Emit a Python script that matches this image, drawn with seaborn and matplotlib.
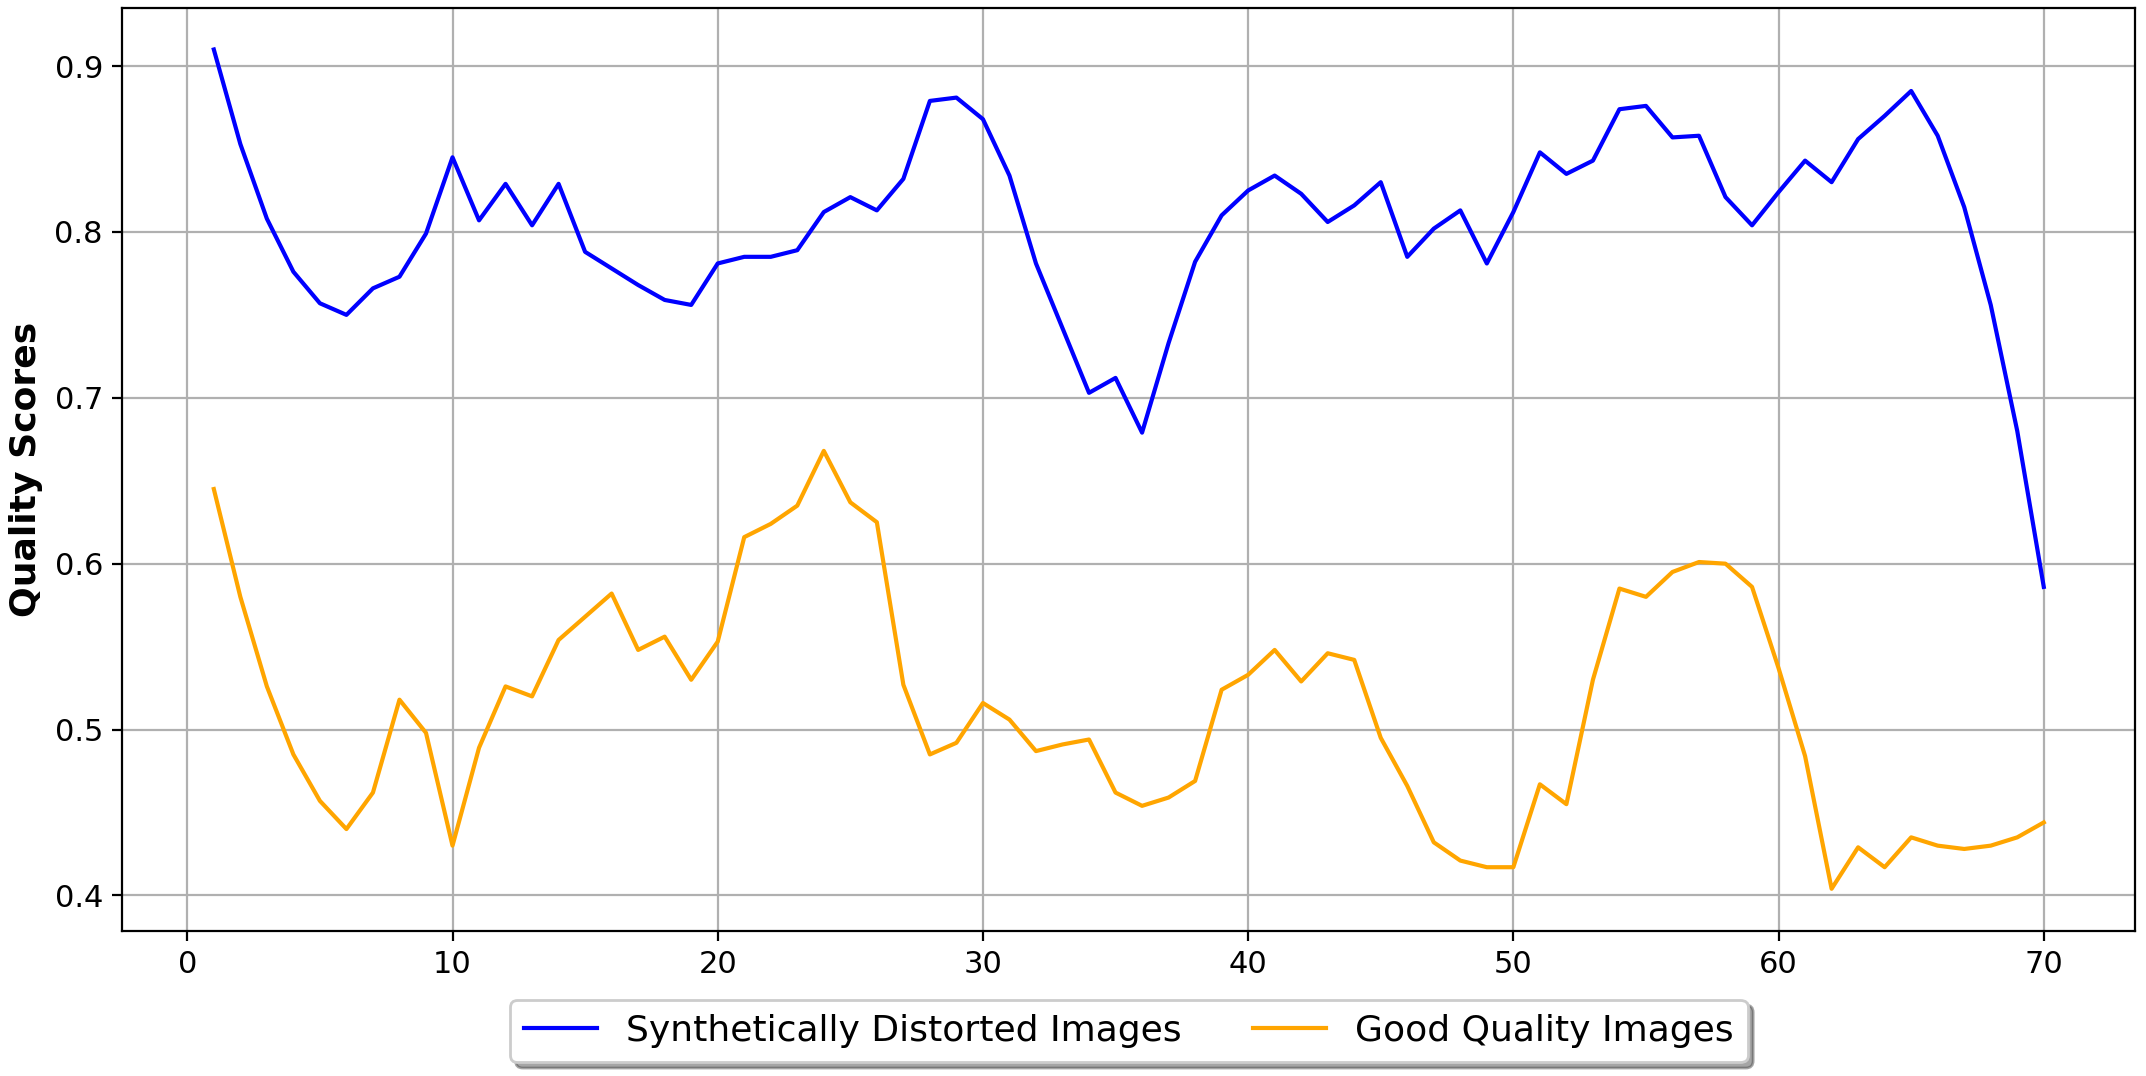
import numpy as np
import pandas as pd
import seaborn as sns
import matplotlib.pyplot as plt

images = list(range(1, 71))
distorted = [0.910, 0.853, 0.808, 0.776, 0.757, 0.750, 0.766, 0.773, 0.799, 0.845,
             0.807, 0.829, 0.804, 0.829, 0.788, 0.778, 0.768, 0.759, 0.756, 0.781,
             0.785, 0.785, 0.789, 0.812, 0.821, 0.813, 0.832, 0.879, 0.881, 0.868,
             0.834, 0.781, 0.742, 0.703, 0.712, 0.679, 0.733, 0.782, 0.810, 0.825,
             0.834, 0.823, 0.806, 0.816, 0.830, 0.785, 0.802, 0.813, 0.781, 0.812,
             0.848, 0.835, 0.843, 0.874, 0.876, 0.857, 0.858, 0.821, 0.804, 0.824,
             0.843, 0.830, 0.856, 0.870, 0.885, 0.858, 0.815, 0.756, 0.680, 0.586]
good = [0.645, 0.580, 0.526, 0.485, 0.457, 0.440, 0.462, 0.518, 0.498, 0.430,
        0.489, 0.526, 0.520, 0.554, 0.568, 0.582, 0.548, 0.556, 0.530, 0.553,
        0.616, 0.624, 0.635, 0.668, 0.637, 0.625, 0.527, 0.485, 0.492, 0.516,
        0.506, 0.487, 0.491, 0.494, 0.462, 0.454, 0.459, 0.469, 0.524, 0.533,
        0.548, 0.529, 0.546, 0.542, 0.495, 0.466, 0.432, 0.421, 0.417, 0.417,
        0.467, 0.455, 0.530, 0.585, 0.580, 0.595, 0.601, 0.600, 0.586, 0.537,
        0.484, 0.404, 0.429, 0.417, 0.435, 0.430, 0.428, 0.430, 0.435, 0.444]

df = pd.DataFrame({"image": images, "Synthetically Distorted Images": distorted,
                   "Good Quality Images": good})

fig, ax = plt.subplots(figsize=(10.73, 5.38), dpi=200)
sns.lineplot(x="image", y="Synthetically Distorted Images", data=df, ax=ax,
             color="blue", label="Synthetically Distorted Images")
sns.lineplot(x="image", y="Good Quality Images", data=df, ax=ax,
             color="orange", label="Good Quality Images")
ax.grid(True, color="#b0b0b0", linewidth=0.8)
ax.set_xlabel("")
ax.set_ylabel("Quality Scores", fontsize=13, fontweight="bold")
ax.tick_params(labelsize=11)
ax.legend(loc="upper center", bbox_to_anchor=(0.5, -0.055), ncol=2,
          fontsize=13, shadow=True, fancybox=True)
fig.subplots_adjust(left=0.057, right=0.995, top=0.993, bottom=0.135)
plt.savefig("out.png", dpi=200)
